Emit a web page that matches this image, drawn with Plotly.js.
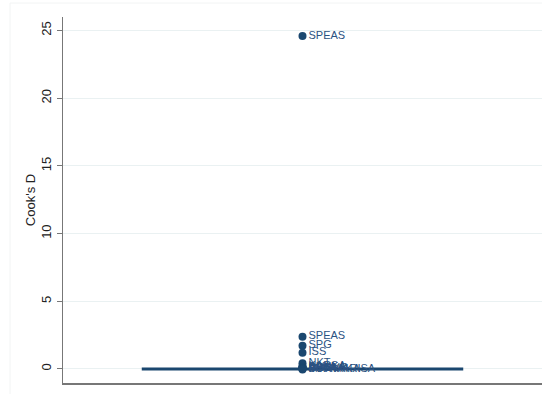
<!DOCTYPE html>
<html>
<head>
<meta charset="utf-8">
<script src="https://cdn.plot.ly/plotly-3.0.1.min.js"></script>
<style>
  html, body { margin: 0; padding: 0; background: #ffffff; }
  #chart { width: 542px; height: 394px; }
</style>
</head>
<body>
<div id="chart"></div>
<script>
// Cook's distance for each observation, labelled by ticker
const labels = ["SPEAS", "SPEAS", "SPG", "ISS", "NKT", "KARSA", "BANKA", "ALKA", "AKSA", "DOBUR", "BURVAKA", "MARMARISA"];
const cooksD = [24.6, 2.38, 1.72, 1.2, 0.42, 0.2, 0.14, 0.09, 0.05, 0.03, 0.01, -0.05];
// reference line at zero
const refX = [-1, 1];
const refY = [0, 0];

const navy = "#1a476f";

const refLine = {
  x: refX, y: refY,
  mode: "lines",
  line: { color: navy, width: 3 },
  hoverinfo: "skip",
  showlegend: false
};

const points = {
  x: labels.map(() => 0),
  y: cooksD,
  mode: "markers+text",
  text: labels,
  textposition: "middle right",
  textfont: { family: "Liberation Sans, Arial, sans-serif", size: 11, color: "#2b5282" },
  marker: { color: navy, size: 8 },
  cliponaxis: false,
  showlegend: false
};

const layout = {
  width: 542, height: 394,
  margin: { l: 63, r: 0, t: 17, b: 11 },
  paper_bgcolor: "#ffffff",
  plot_bgcolor: "#ffffff",
  font: { family: "Liberation Sans, Arial, sans-serif", color: "#222222" },
  xaxis: {
    range: [-1.49, 1.49],
    showgrid: false, zeroline: false,
    showticklabels: false, ticks: "",
    showline: true, linecolor: "#777777", linewidth: 1.5
  },
  yaxis: {
    range: [-1.04, 26.0],
    tickvals: [0, 5, 10, 15, 20, 25],
    tickangle: -90,
    ticks: "outside", ticklen: 5, tickcolor: "#777777",
    tickfont: { size: 13, color: "#222222" },
    showgrid: true, gridcolor: "#eaf1f2", gridwidth: 1,
    zeroline: false,
    showline: true, linecolor: "#777777", linewidth: 1.5,
    title: { text: "Cook's D", font: { size: 13, color: "#222222" }, standoff: 0 }
  },
  shapes: [
    { type: "rect", xref: "paper", yref: "paper",
      x0: (10 - 63) / 479, x1: 1.01, y0: -0.1, y1: 1 + (17 - 3) / 366,
      line: { color: "#f2f4f4", width: 1 }, fillcolor: "rgba(0,0,0,0)", layer: "below" }
  ]
};

Plotly.newPlot("chart", [refLine, points], layout, { staticPlot: true, displayModeBar: false });
</script>
</body>
</html>
